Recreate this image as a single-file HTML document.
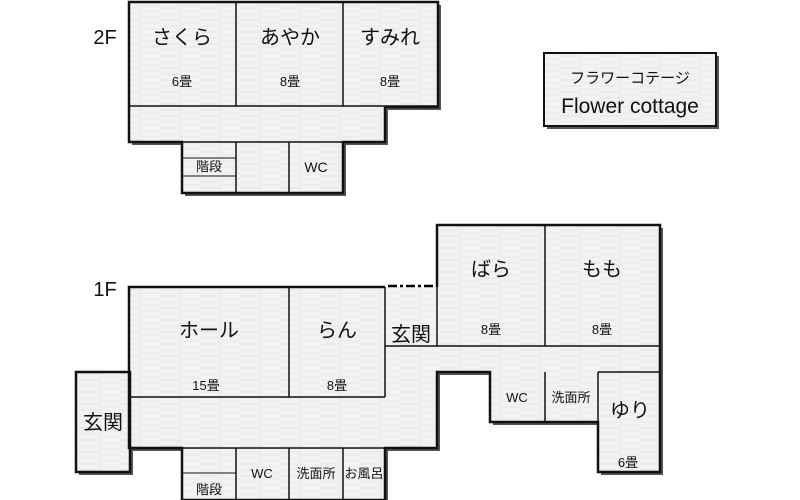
<!DOCTYPE html>
<html><head><meta charset="utf-8"><style>
html,body{margin:0;padding:0;background:#fff;width:800px;height:500px;overflow:hidden}
svg{display:block}
text{font-family:"Liberation Sans","Noto Sans CJK JP",sans-serif;fill:#111}
</style></head><body>
<svg width="800" height="500" viewBox="0 0 800 500" xmlns="http://www.w3.org/2000/svg">
<defs>
<pattern id="tx" width="40" height="6" patternUnits="userSpaceOnUse">
<rect width="40" height="6" fill="#f2f2f2"/>
<line x1="0" y1="2" x2="22" y2="2" stroke="#e4e4e4" stroke-width="1"/>
<line x1="18" y1="5" x2="40" y2="5" stroke="#e8e8e8" stroke-width="1"/>
</pattern>
</defs>
<g fill="#555">
<polygon points="132,5 441,5 441,110 388,110 388,145 346,145 346,196 185,196 185,145 132,145"/>
<polygon points="132,290 388,290 388,290 440,290 440,228 663,228 663,475 601,475 601,425 493,425 493,375 440,375 440,451 388,451 388,503 185,503 185,451 132,451"/>
<rect x="79" y="375" width="54" height="100"/>
<rect x="547" y="56" width="172" height="73"/>
</g>
<g fill="url(#tx)" stroke="none">
<polygon points="129,2 438,2 438,107 385,107 385,142 343,142 343,193 182,193 182,142 129,142"/>
<polygon points="129,287 385,287 437,287 437,225 660,225 660,472 598,472 598,422 490,422 490,372 437,372 437,448 385,448 385,500 182,500 182,448 129,448"/>
<rect x="76" y="372" width="54" height="100"/>
<rect x="544" y="53" width="172" height="73"/>
</g>
<rect x="386" y="282" width="50" height="4" fill="#fff"/>
<g stroke="#111" stroke-width="1.5" fill="none">
<line x1="236" y1="2" x2="236" y2="106"/>
<line x1="343" y1="2" x2="343" y2="106"/>
<line x1="129" y1="106" x2="438" y2="106"/>
<line x1="236" y1="142" x2="236" y2="193"/>
<line x1="289" y1="142" x2="289" y2="193"/>
<line x1="182" y1="158" x2="236" y2="158" stroke-width="1"/>
<line x1="182" y1="176" x2="236" y2="176" stroke-width="1"/>
<line x1="182" y1="142" x2="343" y2="142"/>
<line x1="289" y1="287" x2="289" y2="397"/>
<line x1="129" y1="397" x2="385" y2="397"/>
<line x1="385" y1="287" x2="385" y2="397"/>
<line x1="385" y1="346" x2="660" y2="346"/>
<line x1="545" y1="225" x2="545" y2="346"/>
<line x1="437" y1="287" x2="437" y2="346"/>
<line x1="598" y1="372" x2="660" y2="372"/>
<line x1="545" y1="372" x2="545" y2="422"/>
<line x1="598" y1="372" x2="598" y2="422"/>
<line x1="182" y1="448" x2="385" y2="448"/>
<line x1="236" y1="448" x2="236" y2="500"/>
<line x1="289" y1="448" x2="289" y2="500"/>
<line x1="343" y1="448" x2="343" y2="500"/>
<line x1="182" y1="473" x2="236" y2="473" stroke-width="1"/>
</g>
<g stroke="#111" stroke-width="2.5" fill="none" stroke-linejoin="miter">
<polygon points="129,2 438,2 438,107 385,107 385,142 343,142 343,193 182,193 182,142 129,142"/>
<polyline points="385,287 129,287 129,448 182,448 182,500 385,500 385,448 437,448 437,372 490,372 490,422 598,422 598,472 660,472 660,225 437,225 437,287"/>
<rect x="76" y="372" width="54" height="100"/>
<rect x="544" y="53" width="172" height="73" stroke-width="2"/>
</g>
<line x1="388" y1="286" x2="435" y2="286" stroke="#000" stroke-width="2.5" stroke-dasharray="9,3,3,3"/>
<g font-size="20" text-anchor="middle">
<text x="105" y="44">2F</text>
<text x="182" y="44">さくら</text>
<text x="290" y="44">あやか</text>
<text x="390" y="44">すみれ</text>
<text x="105" y="296">1F</text>
<text x="209" y="337">ホール</text>
<text x="337" y="337">らん</text>
<text x="411" y="341">玄関</text>
<text x="103" y="429">玄関</text>
<text x="491" y="276">ばら</text>
<text x="602" y="276">もも</text>
<text x="630" y="417">ゆり</text>
</g>
<g font-size="13" text-anchor="middle" fill="#333">
<text x="182" y="86">6畳</text>
<text x="290" y="86">8畳</text>
<text x="390" y="86">8畳</text>
<text x="209" y="171">階段</text>
<text x="316" y="172" font-size="14">WC</text>
<text x="206" y="390">15畳</text>
<text x="337" y="390">8畳</text>
<text x="491" y="334">8畳</text>
<text x="602" y="334">8畳</text>
<text x="517" y="402">WC</text>
<text x="571" y="402">洗面所</text>
<text x="628" y="467">6畳</text>
<text x="209" y="494">階段</text>
<text x="262" y="478">WC</text>
<text x="316" y="478">洗面所</text>
<text x="364" y="478">お風呂</text>
</g>
<text x="630" y="83" font-size="15" text-anchor="middle">フラワーコテージ</text>
<text x="630" y="113" font-size="21" text-anchor="middle">Flower cottage</text>
</svg>
</body></html>
